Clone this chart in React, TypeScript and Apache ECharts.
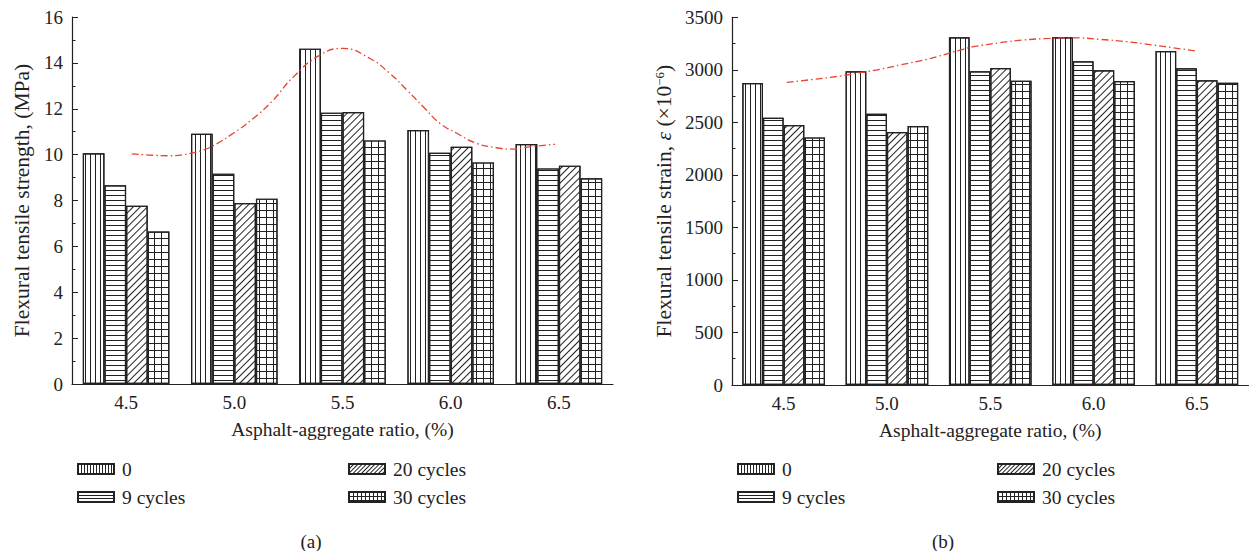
import React, { useEffect, useRef } from "react";
import * as echarts from "echarts";

const categories = ["4.5", "5.0", "5.5", "6.0", "6.5"];
const seriesNames = ["0", "9 cycles", "20 cycles", "30 cycles"];

// (a) Flexural tensile strength, MPa
const strength0 = [10.06, 10.91, 14.62, 11.07, 10.46];
const strength9 = [8.66, 9.17, 11.83, 10.08, 9.4];
const strength20 = [7.77, 7.89, 11.86, 10.34, 9.52];
const strength30 = [6.65, 8.08, 10.62, 9.66, 8.97];
// red dash-dot trend curve: [asphalt-aggregate ratio, MPa]
const strengthTrend = [
  [4.526, 10.03], [4.61, 9.98], [4.703, 9.95], [4.795, 10.05], [4.857, 10.2], [4.903, 10.39],
  [4.995, 10.93], [5.088, 11.58], [5.18, 12.38], [5.273, 13.39], [5.396, 14.34], [5.502, 14.63],
  [5.627, 14.19], [5.719, 13.54], [5.797, 12.82], [5.873, 12.09], [5.951, 11.36], [6.028, 10.93],
  [6.12, 10.49], [6.213, 10.3], [6.274, 10.24], [6.366, 10.34], [6.482, 10.45],
];

// (b) Flexural tensile strain, x10^-6
const strain0 = [2874, 2986, 3309, 3309, 3179];
const strain9 = [2544, 2582, 2986, 3081, 3014];
const strain20 = [2475, 2408, 3017, 2995, 2900];
const strain30 = [2357, 2465, 2896, 2893, 2877];
const strainTrend = [
  [4.515, 2881], [4.644, 2909], [4.773, 2941], [4.87, 2973], [4.966, 3005], [5.063, 3046],
  [5.192, 3100], [5.354, 3188], [5.418, 3220], [5.547, 3258], [5.66, 3284], [5.789, 3299],
  [5.902, 3305], [6.031, 3290], [6.16, 3268], [6.289, 3236], [6.385, 3210], [6.498, 3179],
];

const INK = "#222";
const RED = "#e8432f";
const FONT = "Liberation Serif";

function makeDecals(s: number) {
  return [
    { symbol: "rect", symbolSize: 1, dashArrayX: [1, 4 * s], dashArrayY: [10, 0], color: INK, backgroundColor: "#fff" },
    { symbol: "rect", symbolSize: 1, dashArrayX: [10, 0], dashArrayY: [1, 4 * s], color: INK, backgroundColor: "#fff" },
    { symbol: "rect", symbolSize: 1, dashArrayX: [10, 0], dashArrayY: [1, 4 * s], rotation: -Math.PI / 4, color: INK, backgroundColor: "#fff" },
    { symbol: "rect", symbolSize: 1, dashArrayX: [[7 * s, 0], [1, 6 * s]], dashArrayY: [1, 0, 6 * s, 0], color: INK, backgroundColor: "#fff" },
  ];
}
const decals = makeDecals(1);
const legendDecals = makeDecals(0.5);

function barSeries(data: number[][], axisIndex: number) {
  return data.map((d, i) => ({
    type: "bar",
    name: seriesNames[i],
    xAxisIndex: axisIndex,
    yAxisIndex: axisIndex,
    data: d,
    barGap: "0%",
    barCategoryGap: "20%",
    itemStyle: { color: "#fff", borderColor: INK, borderWidth: 1.2, decal: decals[i] },
  }));
}

function trendSeries(data: number[][], xIndex: number, yIndex: number) {
  return {
    type: "line",
    name: "trend" + yIndex,
    xAxisIndex: xIndex,
    yAxisIndex: yIndex,
    data,
    smooth: true,
    symbol: "none",
    z: 5,
    lineStyle: { color: RED, width: 1.3, type: [7, 3, 1.5, 3] },
  };
}

const textBase = { fontFamily: FONT, fontSize: 19, color: INK };

function xAxis(gridIndex: number) {
  return {
    type: "category",
    gridIndex,
    data: categories,
    name: "Asphalt-aggregate ratio, (%)",
    nameLocation: "middle",
    nameGap: 35,
    nameTextStyle: { ...textBase, fontSize: 19.5 },
    axisLine: { lineStyle: { color: INK, width: 1.2 } },
    axisTick: { inside: true, length: 4, lineStyle: { color: INK } },
    axisLabel: { ...textBase, margin: 9 },
    splitLine: { show: false },
  };
}

function hiddenX(gridIndex: number) {
  return { type: "value", gridIndex, min: 4.25, max: 6.75, show: false, splitLine: { show: false } };
}

function yAxis(gridIndex: number, max: number, interval: number, name: string, nameGap: number, rich?: any) {
  return {
    type: "value",
    gridIndex,
    min: 0,
    max,
    interval,
    name,
    nameLocation: "middle",
    nameGap,
    nameTextStyle: { ...textBase, fontSize: 21.5, rich },
    axisLine: { show: true, lineStyle: { color: INK, width: 1.2 } },
    axisTick: { show: true, inside: true, length: 6, lineStyle: { color: INK } },
    minorTick: { show: true, splitNumber: 2, length: 3.5, lineStyle: { color: INK } },
    axisLabel: { ...textBase, margin: 9, formatter: (v: number) => String(v) },
    splitLine: { show: false },
  };
}

function legend(left: number, idx: number[]) {
  return {
    left,
    top: 454,
    orient: "vertical",
    data: idx.map((i) => ({ name: seriesNames[i], itemStyle: { decal: legendDecals[i] } })),
    icon: "rect",
    itemWidth: 36,
    itemHeight: 10,
    itemGap: 8,
    textStyle: { ...textBase, fontSize: 19.5, lineHeight: 19, padding: [0, 0, 0, 3] },
    selectedMode: false,
  };
}

export default function App() {
  const ref = useRef<HTMLDivElement>(null);
  useEffect(() => {
    document.body.style.margin = "0";
    if (!ref.current) return;
    const chart = echarts.init(ref.current, undefined, { renderer: "svg" });
    chart.setOption({
      animation: false,
      backgroundColor: "#fff",
      grid: [
        { left: 72, top: 17, width: 541, bottom: 167 },
        { left: 732, top: 17.3, width: 516.5, bottom: 166 },
      ],
      xAxis: [xAxis(0), xAxis(1), hiddenX(0), hiddenX(1)],
      yAxis: [
        yAxis(0, 16, 2, "Flexural tensile strength, (MPa)", 39),
        yAxis(1, 3500, 500, "Flexural tensile strain, {i|ε} (×10{s|−6})", 57, {
          i: { fontFamily: FONT, fontSize: 21.5, fontStyle: "italic", color: INK },
          s: { fontFamily: FONT, fontSize: 13, color: INK, verticalAlign: "top", lineHeight: 20 },
        }),
      ],
      legend: [
        legend(72, [0, 1]),
        legend(343, [2, 3]),
        legend(732, [0, 1]),
        legend(992, [2, 3]),
      ],
      graphic: [
        { type: "text", x: 311, y: 541, style: { text: "(a)", font: `19px "${FONT}"`, fill: INK, align: "center", verticalAlign: "middle" } },
        { type: "text", x: 943, y: 541, style: { text: "(b)", font: `19px "${FONT}"`, fill: INK, align: "center", verticalAlign: "middle" } },
      ],
      series: [
        ...barSeries([strength0, strength9, strength20, strength30], 0),
        trendSeries(strengthTrend, 2, 0),
        ...barSeries([strain0, strain9, strain20, strain30], 1),
        trendSeries(strainTrend, 3, 1),
      ],
    });
    return () => chart.dispose();
  }, []);
  return <div ref={ref} style={{ width: 1253, height: 551 }} />;
}
